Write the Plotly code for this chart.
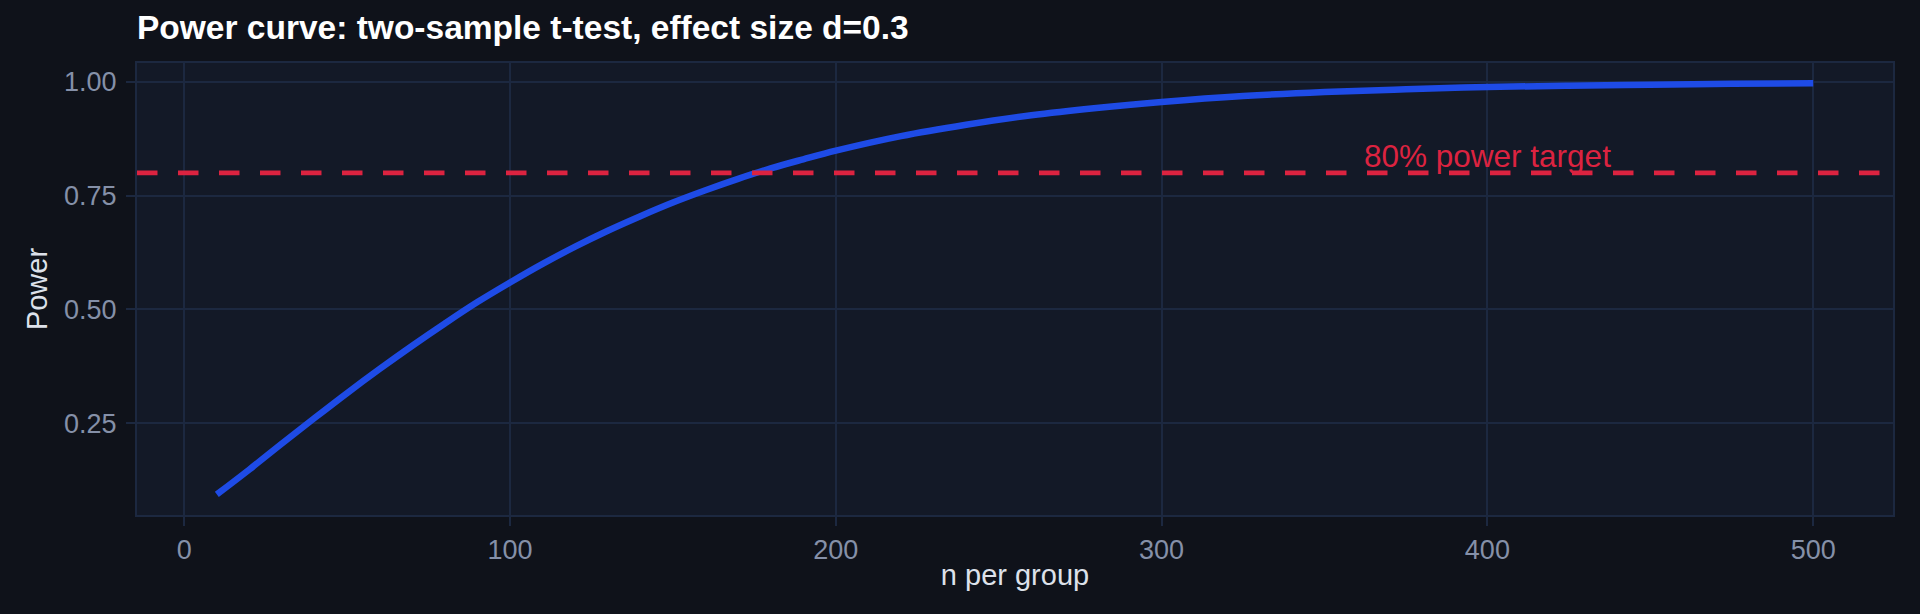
import plotly.graph_objects as go

# values
n_per_group = [10, 20, 30, 40, 50, 60, 70, 80, 90, 100, 110, 120, 130, 140, 150,
               160, 170, 180, 190, 200, 220, 240, 260, 280, 300, 325, 350, 375,
               400, 425, 450, 475, 500]
power = [0.093, 0.148, 0.205, 0.261, 0.316, 0.369, 0.420, 0.469, 0.516, 0.559,
         0.600, 0.638, 0.673, 0.705, 0.735, 0.762, 0.787, 0.810, 0.830, 0.849,
         0.881, 0.906, 0.927, 0.943, 0.956, 0.969, 0.978, 0.984, 0.989, 0.992,
         0.994, 0.996, 0.997]
target = 0.8
target_label = "80% power target"
x_ticks = [0, 100, 200, 300, 400, 500]
y_ticks = [0.25, 0.50, 0.75, 1.00]

paper_bg = "#0f121a"
panel_bg = "#131927"
grid = "#1c2840"
tick_col = "#8590a8"
red = "#dc2340"
blue = "#1e4be6"
font = "Liberation Sans, Arial, sans-serif"

fig = go.Figure()
fig.add_trace(go.Scatter(
    x=n_per_group, y=power, mode="lines",
    line=dict(color=blue, width=6.5, shape="spline"),
    showlegend=False, hoverinfo="x+y",
))

fig.add_hline(y=target, line=dict(color=red, width=4.7, dash="20.5px,20.5px"))
fig.add_annotation(
    x=400, y=target, text=target_label, showarrow=False,
    xanchor="center", yanchor="bottom", yshift=-3,
    font=dict(family=font, size=31.5, color=red),
)

axis_common = dict(
    showgrid=True, gridcolor=grid, gridwidth=2,
    showline=True, linecolor=grid, linewidth=2, mirror=True,
    ticks="outside", ticklen=9, tickwidth=2, tickcolor=grid,
    tickfont=dict(family=font, size=27, color=tick_col),
    zeroline=False,
)

fig.update_layout(
    width=1920, height=614,
    paper_bgcolor=paper_bg, plot_bgcolor=panel_bg,
    margin=dict(l=137, r=27, t=63, b=99),
    title=dict(
        text="<b>Power curve: two-sample t-test, effect size d=0.3</b>",
        x=0, xref="paper", xanchor="left",
        y=1 - 39 / 614, yref="container", yanchor="bottom",
        font=dict(family=font, size=33.5, color="#ffffff"),
    ),
    xaxis=dict(
        range=[-14.5, 524.5], tickvals=x_ticks,
        title=dict(text="n per group", standoff=0,
                   font=dict(family=font, size=29, color="#dde1ea")),
        ticklabelstandoff=1,
        **axis_common,
    ),
    yaxis=dict(
        range=[0.0478, 1.0418], tickvals=y_ticks, tickformat=".2f",
        title=dict(text="Power", standoff=8,
                   font=dict(family=font, size=29, color="#dde1ea")),
        ticklabelstandoff=4,
        **axis_common,
    ),
)

# page body has a default 8px margin; drop it so the figure fills the window
fig.write_html("out.html", config={"displayModeBar": False},
               post_script="document.body.style.margin='0';")
